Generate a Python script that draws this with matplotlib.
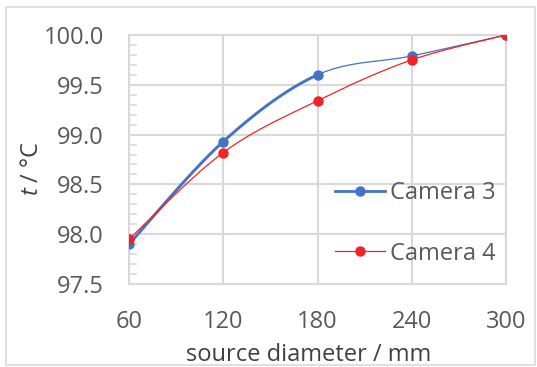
import numpy as np
import matplotlib
matplotlib.use("Agg")
import matplotlib.pyplot as plt
from matplotlib.patches import Rectangle
from matplotlib.lines import Line2D

# ---- data ----
diameters = [60, 120, 180, 240, 300]
camera3 = [97.90, 98.93, 99.60, 99.79, 100.00]
camera4 = [97.95, 98.82, 99.34, 99.75, 100.00]
series_names = ["Camera 3", "Camera 4"]
y_ticks = [97.5, 98.0, 98.5, 99.0, 99.5, 100.0]

plt.rcParams['font.family'] = ['Open Sans', 'DejaVu Sans']
plt.rcParams['mathtext.fontset'] = 'custom'
plt.rcParams['mathtext.it'] = 'Open Sans:italic'
plt.rcParams['mathtext.rm'] = 'Open Sans'

BLUE = '#4472C4'
RED = '#F02424'
GRID = '#D9D9D9'
TXT = '#595959'
FS = 17


def smooth(x, y, i0, i1, n=40):
    """Excel-like smoothed (Catmull-Rom Bezier) curve between point i0 and i1."""
    P = np.column_stack([x, y]).astype(float)
    m = len(P)
    xs, ys = [], []
    t = np.linspace(0, 1, n)
    for i in range(i0, i1):
        p0 = P[max(i - 1, 0)]
        p1 = P[i]
        p2 = P[i + 1]
        p3 = P[min(i + 2, m - 1)]
        c1 = p1 + (p2 - p0) / 6.0
        c2 = p2 - (p3 - p1) / 6.0
        b = ((1 - t) ** 3)[:, None] * p1 + (3 * (1 - t) ** 2 * t)[:, None] * c1 \
            + (3 * (1 - t) * t ** 2)[:, None] * c2 + (t ** 3)[:, None] * p2
        xs.extend(b[:, 0]); ys.extend(b[:, 1])
    return xs, ys


fig = plt.figure(figsize=(5.37, 3.67), dpi=100)
fig.patches.append(Rectangle((6 / 537, 2 / 367), 529 / 537, 358 / 367,
                             transform=fig.transFigure, fill=False,
                             edgecolor=GRID, lw=1.2))
ax = fig.add_axes([129 / 537, 1 - 284 / 367, 377 / 537, 249 / 367])

ax.set_xlim(diameters[0], diameters[-1])
ax.set_ylim(y_ticks[0], y_ticks[-1])
ax.set_xticks(diameters)
ax.set_xticklabels([str(d) for d in diameters])
ax.set_yticks(y_ticks)
ax.set_yticklabels([f"{v:.1f}" for v in y_ticks])
ax.set_yticks(np.arange(97.5, 100.01, 0.1), minor=True)

ax.grid(True, which='major', color=GRID, lw=1.5, zorder=0)
for s in ax.spines.values():
    s.set_color(GRID)
    s.set_linewidth(1.5)
ax.tick_params(axis='both', which='major', length=0, labelsize=FS,
               labelcolor=TXT)
ax.tick_params(axis='y', which='major', pad=18)
ax.tick_params(axis='x', which='major', pad=19)
ax.tick_params(axis='y', which='minor', direction='in', length=6,
               color=GRID, width=1.2)

# Camera 3: thick first part, thin second part
x1, y1 = smooth(diameters, camera3, 0, 2)
x2, y2 = smooth(diameters, camera3, 2, 4)
ax.plot(x1, y1, color=BLUE, lw=2.1, zorder=3, solid_capstyle='round')
ax.plot(x2, y2, color=BLUE, lw=0.9, zorder=3)
ax.plot(diameters, camera3, ls='none', marker='o', ms=6.5, color=BLUE, zorder=4)

# Camera 4
x3, y3 = smooth(diameters, camera4, 0, 4)
ax.plot(x3, y3, color=RED, lw=0.9, zorder=3)
ax.plot(diameters, camera4, ls='none', marker='o', ms=6.5, color=RED, zorder=5)

handles = [Line2D([], [], color=BLUE, lw=2.0, marker='o', ms=6.5),
           Line2D([], [], color=RED, lw=0.9, marker='o', ms=6.5)]
leg = ax.legend(handles, series_names, loc='upper left',
                bbox_to_anchor=(335 / 537, 1 - 181 / 367),
                bbox_transform=fig.transFigure, frameon=False,
                fontsize=FS, handlelength=2.1, handletextpad=0.25,
                labelspacing=1.55, borderpad=0, borderaxespad=0)
for t in leg.get_texts():
    t.set_color(TXT)

ax.set_xlabel("source diameter / mm", fontsize=FS, color='#404040')
ax.set_ylabel(r"$\mathit{t}$ / °C", fontsize=FS, color='#404040')
ax.xaxis.set_label_coords((309 - 129) / 377, (284 - 343) / 249)
ax.yaxis.set_label_coords((44 - 129) / 377, (284 - 168) / 249)

fig.savefig("out.png", dpi=100)
